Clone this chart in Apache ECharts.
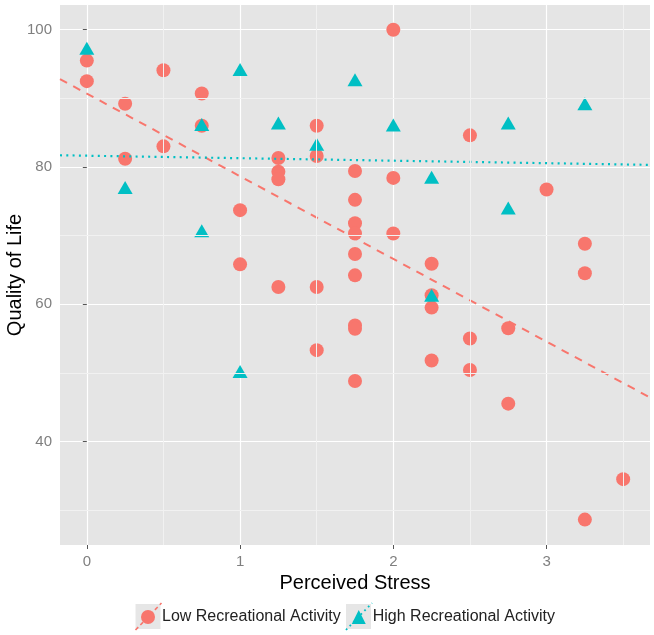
<!DOCTYPE html>
<html>
<head>
<meta charset="utf-8">
<script src="https://cdn.jsdelivr.net/npm/echarts@6/dist/echarts.min.js"></script>
<style>
html,body{margin:0;padding:0;background:#fff;}
#chart{width:654px;height:635px;}
</style>
</head>
<body>
<div id="chart"></div>
<script>
// ---- data ----
const lowStress = [0,0, 0.25,0.25, 0.5,0.5, 0.75,0.75, 1,1, 1.25,1.25,1.25,1.25, 1.5,1.5,1.5,1.5,
  1.75,1.75,1.75,1.75,1.75,1.75,1.75,1.75,1.75, 2,2,2, 2.25,2.25,2.25,2.25, 2.5,2.5,2.5, 2.75,2.75, 3, 3.25,3.25,3.25, 3.5];
const lowQoL = [95.5,92.5, 89.2,81.2, 94.1,83.0, 90.7,86.0, 73.7,65.8, 81.3,79.3,78.2,62.5, 86.0,81.6,62.5,53.3,
  79.4,75.2,71.8,70.3,67.3,64.2,56.9,56.4,48.8, 100,78.4,70.3, 65.9,61.3,59.5,51.8, 84.6,55.0,50.4, 56.5,45.5, 76.7, 68.8,64.5,28.6, 34.5];

const highStress = [0, 0.25, 0.75,0.75, 1,1, 1.25, 1.5, 1.75, 2, 2.25,2.25, 2.75,2.75, 3.25];
const highQoL    = [97.3, 77.0, 86.2,70.7, 94.2,50.2, 86.4, 83.3, 92.7, 86.1, 78.5,61.3, 86.4,74.0, 89.2];

// fitted lines (endpoints read at the panel edges)
const lowFitX = [-0.175, 3.675];
const lowFitY = [92.8, 46.4];
const highFitX = [-0.175, 3.675];
const highFitY = [81.7, 80.3];

const xTicks = [0, 1, 2, 3];
const xMinor = [0.5, 1.5, 2.5, 3.5];
const yTicks = [40, 60, 80, 100];
const yMinor = [30, 50, 70, 90];

const seriesNames = ['Low Recreational Activity', 'High Recreational Activity'];
const xTitle = 'Perceived Stress';
const yTitle = 'Quality of Life';

// ---- build ----
const zip = (a, b) => a.map((v, i) => [v, b[i]]);
const FONT = '"Liberation Sans", Arial, sans-serif';
const RED = '#F8766D', TEAL = '#00BFC4';

const chart = echarts.init(document.getElementById('chart'), null, {renderer: 'canvas'});

const minorLines = [].concat(
  xMinor.map(v => ({xAxis: v})),
  yMinor.map(v => ({yAxis: v}))
);

const option = {
  animation: false,
  backgroundColor: '#ffffff',
  grid: {left: 60, top: 5, width: 590, height: 540, show: true, backgroundColor: '#E5E5E5', borderWidth: 0,
         containLabel: false, outerBoundsMode: 'none'},
  xAxis: {
    type: 'value', min: -0.175, max: 3.675,
    name: xTitle, nameLocation: 'middle', nameGap: 27,
    nameTextStyle: {fontFamily: FONT, fontSize: 20, color: '#000'},
    axisLine: {show: false},
    axisTick: {show: true, length: 4, customValues: xTicks, lineStyle: {color: '#555', width: 1}},
    axisLabel: {customValues: xTicks, margin: 9, fontFamily: FONT, fontSize: 15, color: '#7F7F7F'},
    splitLine: {show: true, lineStyle: {color: '#FFFFFF', width: 1.2}},
    minorSplitLine: {show: false}
  },
  yAxis: {
    type: 'value', min: 24.9, max: 103.6,
    name: yTitle, nameLocation: 'middle', nameGap: 35, nameRotate: 90, nameMoveOverlap: false,
    nameTextStyle: {fontFamily: FONT, fontSize: 20, color: '#000'},
    axisLine: {show: false},
    axisTick: {show: true, length: 4, customValues: yTicks, lineStyle: {color: '#555', width: 1}},
    axisLabel: {customValues: yTicks, margin: 8, fontFamily: FONT, fontSize: 15, color: '#7F7F7F'},
    splitLine: {show: true, lineStyle: {color: '#FFFFFF', width: 1.2}}
  },
  legend: {
    left: 141, top: 609, orient: 'horizontal', padding: 0,
    itemWidth: 14, itemHeight: 14, itemGap: 11,
    textStyle: {fontFamily: FONT, fontSize: 16, color: '#222', padding: [0, 0, 0, 2]},
    data: [{name: seriesNames[0], icon: 'circle'}, {name: seriesNames[1], icon: 'triangle'}]
  },
  graphic: [
    {type: 'rect', shape: {x: 135.5, y: 604, width: 25, height: 25}, style: {fill: '#E6E6E6'}, z: 0},
    {type: 'rect', shape: {x: 346, y: 604, width: 25, height: 25}, style: {fill: '#E6E6E6'}, z: 0},
    {type: 'line', shape: {x1: 135.5, y1: 630, x2: 161.5, y2: 603}, style: {stroke: RED, lineWidth: 1.6, lineDash: [4, 3]}, z: 1},
    {type: 'line', shape: {x1: 346, y1: 630, x2: 372, y2: 603}, style: {stroke: TEAL, lineWidth: 1.8, lineDash: [1.8, 3.5]}, z: 1}
  ],
  series: [
    {
      type: 'scatter', name: '_minor', data: [], z: 0, silent: true,
      markLine: {silent: true, symbol: 'none', label: {show: false}, animation: false,
        lineStyle: {color: '#F1F1F1', width: 1, type: 'solid'}, data: minorLines}
    },
    {
      type: 'scatter', name: seriesNames[0], data: zip(lowStress, lowQoL),
      symbol: 'circle', symbolSize: 14, itemStyle: {color: RED, opacity: 1}, z: 3
    },
    {
      type: 'scatter', name: seriesNames[1], data: zip(highStress, highQoL),
      symbol: 'triangle', symbolSize: [15, 13], itemStyle: {color: TEAL, opacity: 1}, z: 3
    },
    {
      type: 'line', name: 'lowFit', data: zip(lowFitX, lowFitY), showSymbol: false, symbol: 'none',
      lineStyle: {color: RED, width: 2, type: [8, 7]}, z: 4, silent: true
    },
    {
      type: 'line', name: 'highFit', data: zip(highFitX, highFitY), showSymbol: false, symbol: 'none',
      lineStyle: {color: TEAL, width: 2.2, type: [2, 4.3], cap: 'butt'}, z: 4, silent: true
    }
  ]
};
chart.setOption(option);
</script>
</body>
</html>
